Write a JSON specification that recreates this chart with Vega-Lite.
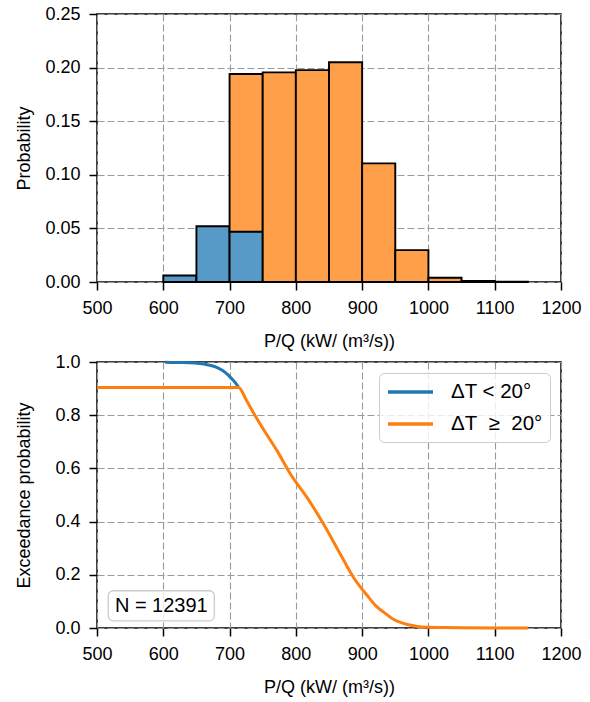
{
  "$schema": "https://vega.github.io/schema/vega-lite/v6.json",
  "padding": {"left": 14, "top": 4, "right": 5, "bottom": 5},
  "background": "white",
  "config": {
    "font": "Liberation Sans",
    "view": {"stroke": "#000", "strokeWidth": 1.5},
    "axis": {
      "labelFont": "Liberation Sans", "labelFontSize": 18, "labelColor": "#000", "labelFlush": false, "labelOverlap": false,
      "titleFont": "Liberation Sans", "titleFontSize": 18, "titleFontWeight": "normal", "titleColor": "#000",
      "domain": false, "tickColor": "#000", "tickSize": 8, "tickWidth": 1.5,
      "labelPadding": 9, "titlePadding": 15,
      "gridColor": "#9a9a9a", "gridDash": [7, 3], "gridWidth": 1.1
    },
    "axisY": {"minExtent": 52, "maxExtent": 52, "titlePadding": 12},
    "concat": {"spacing": 1}
  },
  "resolve": {"scale": {"color": "independent"}, "legend": {"color": "independent"}},
  "datasets": {
    "hist": [
      {"bin_start": 600, "bin_end": 650, "group": "ΔT < 20°", "ord": 0, "prob": 0.006},
      {"bin_start": 650, "bin_end": 700, "group": "ΔT < 20°", "ord": 0, "prob": 0.052},
      {"bin_start": 700, "bin_end": 750, "group": "ΔT < 20°", "ord": 0, "prob": 0.047},
      {"bin_start": 700, "bin_end": 750, "group": "ΔT ≥ 20°", "ord": 1, "prob": 0.147},
      {"bin_start": 750, "bin_end": 800, "group": "ΔT ≥ 20°", "ord": 1, "prob": 0.1955},
      {"bin_start": 800, "bin_end": 850, "group": "ΔT ≥ 20°", "ord": 1, "prob": 0.1976},
      {"bin_start": 850, "bin_end": 900, "group": "ΔT ≥ 20°", "ord": 1, "prob": 0.205},
      {"bin_start": 900, "bin_end": 950, "group": "ΔT ≥ 20°", "ord": 1, "prob": 0.1107},
      {"bin_start": 950, "bin_end": 1000, "group": "ΔT ≥ 20°", "ord": 1, "prob": 0.0297},
      {"bin_start": 1000, "bin_end": 1050, "group": "ΔT ≥ 20°", "ord": 1, "prob": 0.004},
      {"bin_start": 1050, "bin_end": 1100, "group": "ΔT ≥ 20°", "ord": 1, "prob": 0.001},
      {"bin_start": 1100, "bin_end": 1150, "group": "ΔT ≥ 20°", "ord": 1, "prob": 0.0003}
    ],
    "exceed": [
      {"pq": 603, "p": 0.999, "series": "ΔT < 20°"},
      {"pq": 620, "p": 0.998, "series": "ΔT < 20°"},
      {"pq": 640, "p": 0.997, "series": "ΔT < 20°"},
      {"pq": 655, "p": 0.994, "series": "ΔT < 20°"},
      {"pq": 666, "p": 0.99, "series": "ΔT < 20°"},
      {"pq": 676, "p": 0.984, "series": "ΔT < 20°"},
      {"pq": 683, "p": 0.977, "series": "ΔT < 20°"},
      {"pq": 690, "p": 0.967, "series": "ΔT < 20°"},
      {"pq": 696, "p": 0.955, "series": "ΔT < 20°"},
      {"pq": 701, "p": 0.943, "series": "ΔT < 20°"},
      {"pq": 706, "p": 0.93, "series": "ΔT < 20°"},
      {"pq": 710, "p": 0.918, "series": "ΔT < 20°"},
      {"pq": 713.6, "p": 0.905, "series": "ΔT < 20°"},
      {"pq": 500, "p": 0.904, "series": "ΔT\u00a0\u00a0≥\u00a0\u00a020°"},
      {"pq": 713.6, "p": 0.904, "series": "ΔT\u00a0\u00a0≥\u00a0\u00a020°"},
      {"pq": 725, "p": 0.858, "series": "ΔT\u00a0\u00a0≥\u00a0\u00a020°"},
      {"pq": 736, "p": 0.809, "series": "ΔT\u00a0\u00a0≥\u00a0\u00a020°"},
      {"pq": 751, "p": 0.747, "series": "ΔT\u00a0\u00a0≥\u00a0\u00a020°"},
      {"pq": 772, "p": 0.665, "series": "ΔT\u00a0\u00a0≥\u00a0\u00a020°"},
      {"pq": 792, "p": 0.578, "series": "ΔT\u00a0\u00a0≥\u00a0\u00a020°"},
      {"pq": 817, "p": 0.49, "series": "ΔT\u00a0\u00a0≥\u00a0\u00a020°"},
      {"pq": 842, "p": 0.39, "series": "ΔT\u00a0\u00a0≥\u00a0\u00a020°"},
      {"pq": 867, "p": 0.278, "series": "ΔT\u00a0\u00a0≥\u00a0\u00a020°"},
      {"pq": 887, "p": 0.19, "series": "ΔT\u00a0\u00a0≥\u00a0\u00a020°"},
      {"pq": 908, "p": 0.121, "series": "ΔT\u00a0\u00a0≥\u00a0\u00a020°"},
      {"pq": 920, "p": 0.085, "series": "ΔT\u00a0\u00a0≥\u00a0\u00a020°"},
      {"pq": 933, "p": 0.0585, "series": "ΔT\u00a0\u00a0≥\u00a0\u00a020°"},
      {"pq": 945, "p": 0.036, "series": "ΔT\u00a0\u00a0≥\u00a0\u00a020°"},
      {"pq": 958, "p": 0.021, "series": "ΔT\u00a0\u00a0≥\u00a0\u00a020°"},
      {"pq": 970, "p": 0.012, "series": "ΔT\u00a0\u00a0≥\u00a0\u00a020°"},
      {"pq": 983, "p": 0.006, "series": "ΔT\u00a0\u00a0≥\u00a0\u00a020°"},
      {"pq": 1000, "p": 0.003, "series": "ΔT\u00a0\u00a0≥\u00a0\u00a020°"},
      {"pq": 1019, "p": 0.002, "series": "ΔT\u00a0\u00a0≥\u00a0\u00a020°"},
      {"pq": 1050, "p": 0.001, "series": "ΔT\u00a0\u00a0≥\u00a0\u00a020°"},
      {"pq": 1100, "p": 0.0003, "series": "ΔT\u00a0\u00a0≥\u00a0\u00a020°"},
      {"pq": 1150, "p": 0.0, "series": "ΔT\u00a0\u00a0≥\u00a0\u00a020°"}
    ],
    "note": [{"label": "N = 12391"}]
  },
  "vconcat": [
    {
      "width": 464,
      "height": 268,
      "data": {"name": "hist"},
      "transform": [
        {"stack": "prob", "groupby": ["bin_start"], "sort": [{"field": "ord", "order": "ascending"}], "as": ["y0", "y1"]}
      ],
      "mark": {"type": "rect", "stroke": "#000", "strokeWidth": 1.9},
      "encoding": {
        "x": {"field": "bin_start", "type": "quantitative",
              "scale": {"domain": [500, 1200], "nice": false, "zero": false},
              "axis": {"values": [500, 600, 700, 800, 900, 1000, 1100, 1200], "format": "d", "title": "P/Q (kW/ (m³/s))"}},
        "x2": {"field": "bin_end"},
        "y": {"field": "y0", "type": "quantitative",
              "scale": {"domain": [0, 0.25], "nice": false},
              "axis": {"values": [0, 0.05, 0.1, 0.15, 0.2, 0.25], "format": ".2f", "title": "Probability"}},
        "y2": {"field": "y1"},
        "color": {"field": "group", "type": "nominal",
                  "scale": {"domain": ["ΔT < 20°", "ΔT ≥ 20°"], "range": ["#5799c7", "#ff9f4a"]},
                  "legend": null}
      }
    },
    {
      "width": 464,
      "height": 266,
      "layer": [
        {
          "data": {"name": "exceed"},
          "mark": {"type": "line", "strokeWidth": 3, "interpolate": "monotone"},
          "encoding": {
            "x": {"field": "pq", "type": "quantitative",
                  "scale": {"domain": [500, 1200], "nice": false, "zero": false},
                  "axis": {"values": [500, 600, 700, 800, 900, 1000, 1100, 1200], "format": "d", "title": "P/Q (kW/ (m³/s))"}},
            "y": {"field": "p", "type": "quantitative",
                  "scale": {"domain": [0, 1], "nice": false},
                  "axis": {"values": [0, 0.2, 0.4, 0.6, 0.8, 1.0], "format": ".1f", "title": "Exceedance probability"}},
            "color": {"field": "series", "type": "nominal",
                      "scale": {"domain": ["ΔT < 20°", "ΔT\u00a0\u00a0≥\u00a0\u00a020°"], "range": ["#1f77b4", "#ff7f0e"]},
                      "legend": {"title": null, "orient": "top-right", "offset": 11,
                                 "fillColor": "rgba(255,255,255,0.8)", "strokeColor": "#cccccc", "cornerRadius": 5,
                                 "padding": 7, "symbolType": "M-1,0H3.5", "symbolSize": 400, "symbolStrokeWidth": 3.5,
                                 "labelFont": "Liberation Sans", "labelFontSize": 20.5, "labelColor": "#000",
                                 "labelOffset": 41, "rowPadding": 9}}
          }
        },
        {
          "data": {"name": "note"},
          "mark": {"type": "rect", "fill": "white", "fillOpacity": 0.8, "stroke": "#cccccc", "strokeWidth": 1.3, "cornerRadius": 5},
          "encoding": {
            "x": {"datum": 517, "type": "quantitative"},
            "x2": {"datum": 677},
            "y": {"datum": 0.027, "type": "quantitative"},
            "y2": {"datum": 0.14}
          }
        },
        {
          "data": {"name": "note"},
          "mark": {"type": "text", "font": "Liberation Sans", "fontSize": 20, "color": "#000", "align": "center", "baseline": "middle"},
          "encoding": {
            "x": {"datum": 597, "type": "quantitative"},
            "y": {"datum": 0.083, "type": "quantitative"},
            "text": {"field": "label"}
          }
        }
      ]
    }
  ]
}
